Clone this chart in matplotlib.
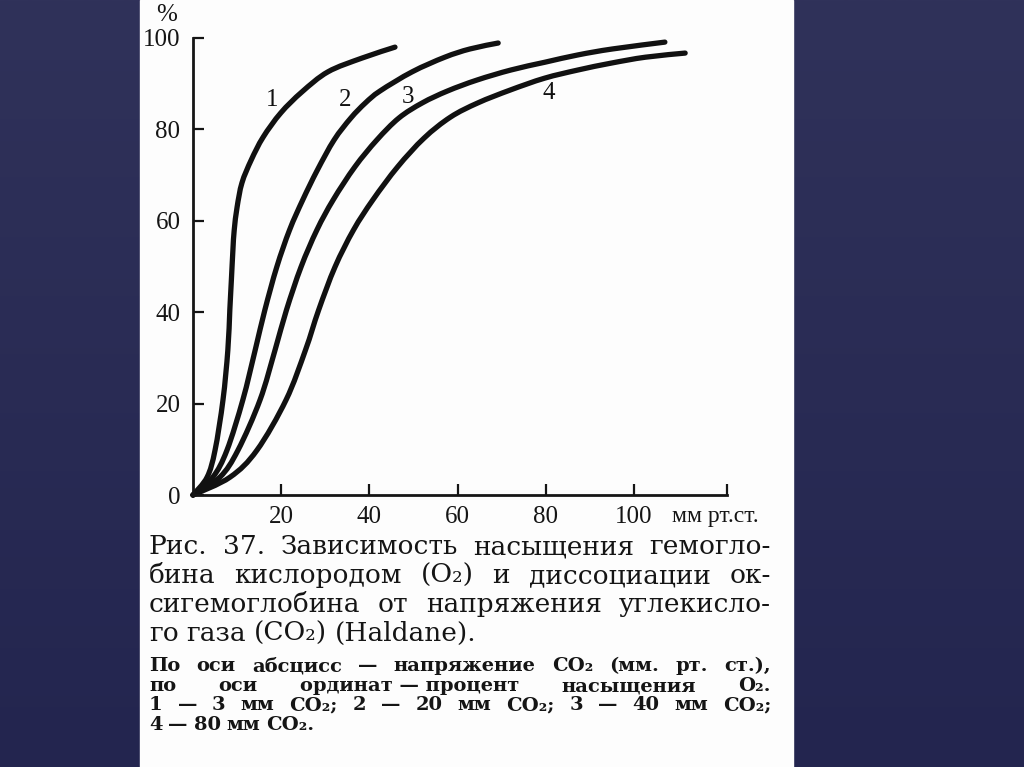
import numpy as np
import matplotlib
matplotlib.use("Agg")
import matplotlib.pyplot as plt
from matplotlib.patches import Rectangle, PathPatch
from matplotlib.path import Path
from matplotlib.colors import LinearSegmentedColormap

plt.rcParams['font.family'] = ['Liberation Serif', 'DejaVu Serif']

# кривые насыщения (x - напряжение, мм рт.ст.; y - % насыщения)
x1 = [0, 3.2, 5.0, 6.8, 7.9, 8.35, 8.7, 9.05, 9.35, 10.0, 11.1, 13.2,
      15.9, 19.9, 24.7, 30.6, 38.3, 45.8]
y1 = [0, 3.9, 9.8, 20.8, 31.7, 40.5, 47.0, 53.6, 58.0, 63.0, 68.3, 73.3,
      78.3, 83.6, 88.2, 92.6, 95.6, 98.0]

x2 = [0, 4.5, 7.7, 11.3, 14.1, 16.3, 19.0, 21.9, 24.9, 28.2, 32.0, 35.8, 39.1, 42.4,
      49.7, 57.1, 62.8, 69.2]
y2 = [0, 3.9, 9.8, 20.8, 31.7, 40.5, 49.9, 58.0, 64.6, 71.1, 77.7, 82.5, 85.8, 88.4,
      92.6, 95.8, 97.6, 98.9]

x3 = [0, 6.1, 10.2, 15.2, 18.6, 21.2, 24.5, 28.1, 31.8, 36.7, 41.7, 46.7, 52.0, 57.7,
      64.4, 72.1, 79.8, 87.3, 95.1, 107.0]
y3 = [0, 3.9, 9.8, 20.8, 31.7, 40.5, 49.9, 58.0, 64.6, 71.8, 77.7, 82.5, 85.8, 88.4,
      90.8, 93.0, 94.7, 96.3, 97.6, 99.1]

x4 = [0, 8.4, 14.5, 21.1, 25.5, 28.5, 32.2, 36.4, 40.8, 46.4, 52.4, 58.4, 64.6, 71.9,
      79.7, 87.3, 94.8, 102.6, 111.6]
y4 = [0, 3.9, 9.8, 20.8, 31.7, 40.5, 49.9, 58.0, 64.6, 71.8, 78.1, 82.7, 85.8, 88.6,
      91.2, 93.0, 94.5, 95.8, 96.7]

curve_names = ['1', '2', '3', '4']
label_x = [18.0, 34.5, 48.8, 80.7]
label_y = [86.4, 86.4, 87.1, 88.0]

xticks = [20, 40, 60, 80, 100]
yticks = [0, 20, 40, 60, 80, 100]
xmax = 121

caption1 = ["Рис. 37. Зависимость насыщения гемогло-",
            "бина кислородом (O₂) и диссоциации ок-",
            "сигемоглобина от напряжения углекисло-",
            "го газа (CO₂) (Haldane)."]
caption2 = ["По оси абсцисс — напряжение CO₂ (мм. рт. ст.),",
            "по оси ординат\u00a0—\u00a0процент насыщения O₂.",
            "1 — 3 мм CO₂; 2 — 20 мм CO₂; 3 — 40 мм CO₂;",
            "4 — 80 мм CO₂."]

W, H = 1024, 767
fig = plt.figure(figsize=(W / 100, H / 100), dpi=100)

# фон слайда + белая страница
bg = fig.add_axes([0, 0, 1, 1], zorder=-2)
bg.set_axis_off()
cmap = LinearSegmentedColormap.from_list('bg', ['#30325a', '#23254f'])
bg.imshow(np.linspace(0, 1, 256)[:, None], aspect='auto', cmap=cmap,
          extent=[0, 1, 0, 1], origin='upper')
bg.add_patch(Rectangle((140 / W, 0), (793 - 140) / W, 1, color='#fdfdfd',
                       transform=bg.transAxes))
bg.set_xlim(0, 1)
bg.set_ylim(0, 1)

ax = fig.add_axes([193 / W, (H - 495) / H, xmax * 4.41 / W, 457 / H])
ax.set_facecolor('none')


def smooth_path(xs, ys):
    # гладкая линия через точки (Catmull-Rom -> кубические Безье)
    p = np.column_stack([xs, ys]).astype(float)
    p = np.vstack([p[0], p, p[-1]])
    verts = [p[1]]
    codes = [Path.MOVETO]
    for i in range(1, len(p) - 2):
        c1 = p[i] + (p[i + 1] - p[i - 1]) / 6
        c2 = p[i + 1] - (p[i + 2] - p[i]) / 6
        verts += [c1, c2, p[i + 1]]
        codes += [Path.CURVE4] * 3
    return Path(verts, codes)


for xs, ys in zip([x1, x2, x3, x4], [y1, y2, y3, y4]):
    ax.add_patch(PathPatch(smooth_path(xs, ys), fill=False, edgecolor='#111111',
                           lw=3.8, capstyle='round', joinstyle='round',
                           clip_on=False))

for name, lx, ly in zip(curve_names, label_x, label_y):
    ax.text(lx, ly, name, fontsize=18, ha='center', va='center', color='#111111')

ax.set_xlim(0, xmax)
ax.set_ylim(0, 100)
ax.spines['top'].set_visible(False)
ax.spines['right'].set_visible(False)
for s in ['left', 'bottom']:
    ax.spines[s].set_linewidth(2)
    ax.spines[s].set_color('#151515')
ax.set_xticks(xticks + [xmax])
ax.set_xticklabels([str(v) for v in xticks] + [''])
ax.set_yticks(yticks)
ax.set_yticklabels([str(v) for v in yticks])
ax.tick_params(direction='in', length=8, width=1.6, labelsize=18,
               colors='#151515')
ax.tick_params(axis='x', pad=8)
ax.tick_params(axis='y', pad=9)

fig.text(167 / W, 1 - 15 / H, '%', fontsize=18, ha='center', va='center',
         color='#151515')
fig.text(672 / W, 1 - 522 / H, 'мм рт.ст.', fontsize=17, ha='left',
         va='baseline', color='#151515')

renderer = fig.canvas.get_renderer()
cap_font = ['DejaVu Serif', 'Liberation Serif']


def justify(lines, ys, x0, x1, size, weight):
    for i, (line, y) in enumerate(zip(lines, ys)):
        words = line.split(' ')
        texts = [fig.text(0, 1 - y / H, w, fontsize=size, fontweight=weight,
                          family=cap_font, va='baseline', ha='left',
                          color='#151515')
                 for w in words]
        widths = [t.get_window_extent(renderer).width for t in texts]
        space = size * 100 / 72 * 0.3
        if i == len(lines) - 1 or len(words) == 1:
            gap = space
        else:
            gap = (x1 - x0 - sum(widths)) / (len(words) - 1)
            if gap < space * 0.6:
                # слишком широко - сжать шрифт
                k = (x1 - x0 - space * 0.6 * (len(words) - 1)) / sum(widths)
                for t in texts:
                    t.set_fontsize(size * k)
                widths = [t.get_window_extent(renderer).width for t in texts]
                gap = (x1 - x0 - sum(widths)) / (len(words) - 1)
        x = x0
        for t, w in zip(texts, widths):
            t.set_x(x / W)
            x += w + gap


justify(caption1, [554, 583, 612, 641], 149, 771, 19, 'normal')
justify(caption2, [671, 691, 710, 730], 149, 771, 14, 'bold')

fig.savefig('out.png', dpi=100)
